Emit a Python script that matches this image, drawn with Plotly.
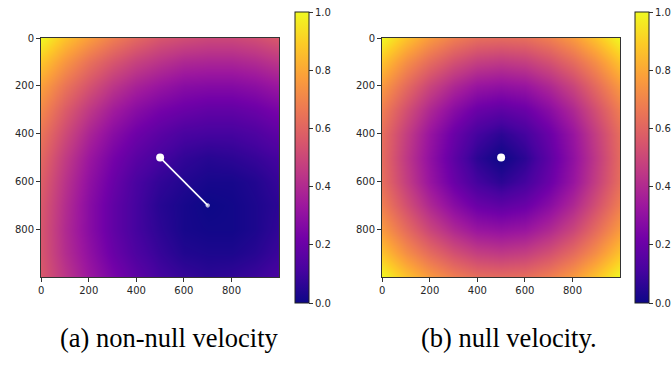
import plotly.graph_objects as go

# ---- data ----
grid_x = [0, 100, 200, 300, 400, 500, 600, 700, 800, 900, 1000]
grid_y = [0, 100, 200, 300, 400, 500, 600, 700, 800, 900, 1000]

left_z = [
    [1.00, 0.87, 0.77, 0.68, 0.61, 0.55, 0.52, 0.50, 0.50, 0.52, 0.56],
    [0.88, 0.75, 0.64, 0.55, 0.48, 0.43, 0.39, 0.38, 0.38, 0.40, 0.44],
    [0.78, 0.65, 0.54, 0.44, 0.37, 0.32, 0.28, 0.27, 0.27, 0.29, 0.33],
    [0.71, 0.57, 0.45, 0.35, 0.28, 0.23, 0.20, 0.18, 0.18, 0.20, 0.24],
    [0.65, 0.51, 0.38, 0.28, 0.21, 0.16, 0.12, 0.11, 0.11, 0.13, 0.17],
    [0.61, 0.46, 0.33, 0.23, 0.16, 0.11, 0.07, 0.05, 0.06, 0.08, 0.11],
    [0.58, 0.43, 0.30, 0.20, 0.12, 0.07, 0.04, 0.02, 0.02, 0.04, 0.08],
    [0.56, 0.41, 0.28, 0.18, 0.11, 0.05, 0.02, 0.00, 0.01, 0.03, 0.06],
    [0.55, 0.40, 0.28, 0.18, 0.11, 0.06, 0.02, 0.01, 0.01, 0.03, 0.07],
    [0.55, 0.41, 0.30, 0.20, 0.13, 0.08, 0.04, 0.03, 0.03, 0.05, 0.09],
    [0.56, 0.44, 0.33, 0.24, 0.17, 0.11, 0.08, 0.06, 0.07, 0.09, 0.12],
]

right_z = [
    [1.00, 0.87, 0.76, 0.68, 0.63, 0.62, 0.63, 0.68, 0.76, 0.87, 1.00],
    [0.87, 0.73, 0.62, 0.53, 0.47, 0.45, 0.47, 0.53, 0.62, 0.73, 0.87],
    [0.76, 0.62, 0.49, 0.39, 0.32, 0.30, 0.32, 0.39, 0.49, 0.62, 0.76],
    [0.68, 0.53, 0.39, 0.28, 0.20, 0.17, 0.20, 0.28, 0.39, 0.53, 0.68],
    [0.63, 0.47, 0.32, 0.20, 0.11, 0.06, 0.11, 0.20, 0.32, 0.47, 0.63],
    [0.62, 0.45, 0.30, 0.17, 0.06, 0.00, 0.06, 0.17, 0.30, 0.45, 0.62],
    [0.63, 0.47, 0.32, 0.20, 0.11, 0.06, 0.11, 0.20, 0.32, 0.47, 0.63],
    [0.68, 0.53, 0.39, 0.28, 0.20, 0.17, 0.20, 0.28, 0.39, 0.53, 0.68],
    [0.76, 0.62, 0.49, 0.39, 0.32, 0.30, 0.32, 0.39, 0.49, 0.62, 0.76],
    [0.87, 0.73, 0.62, 0.53, 0.47, 0.45, 0.47, 0.53, 0.62, 0.73, 0.87],
    [1.00, 0.87, 0.76, 0.68, 0.63, 0.62, 0.63, 0.68, 0.76, 0.87, 1.00],
]

agent_x = [500]
agent_y = [500]
velocity_x = [500, 700]
velocity_y = [500, 700]

axis_ticks = [0, 200, 400, 600, 800]
colorbar_ticks = [0.0, 0.2, 0.4, 0.6, 0.8, 1.0]
colorbar_labels = ["0.0", "0.2", "0.4", "0.6", "0.8", "1.0"]
captions = ["(a) non-null velocity", "(b) null velocity."]

# ---- figure ----
W, H = 672, 365
TXT = "#262626"
tick_font = dict(family="DejaVu Sans", size=10, color=TXT)


def cbar(x_px):
    return dict(
        x=x_px / W, xanchor="left", xpad=0,
        y=1 - 12 / H, yanchor="top", ypad=0,
        len=291 / H, lenmode="fraction",
        thickness=14, thicknessmode="pixels",
        outlinewidth=1, outlinecolor="#222",
        tickmode="array", tickvals=colorbar_ticks, ticktext=colorbar_labels,
        ticks="outside", ticklen=4, tickwidth=1, tickcolor="#333",
        tickfont=tick_font,
    )


fig = go.Figure()
fig.add_trace(go.Heatmap(x=grid_x, y=grid_y, z=left_z, colorscale="Plasma",
                         zmin=0, zmax=1, zsmooth="best", colorbar=cbar(295),
                         xaxis="x", yaxis="y"))
fig.add_trace(go.Heatmap(x=grid_x, y=grid_y, z=right_z, colorscale="Plasma",
                         zmin=0, zmax=1, zsmooth="best", colorbar=cbar(635),
                         xaxis="x2", yaxis="y2"))

# velocity line and agent marker (left)
fig.add_trace(go.Scatter(x=velocity_x, y=velocity_y, mode="lines+markers",
                         line=dict(color="white", width=1.6),
                         marker=dict(color="white", size=[0, 3.5]),
                         xaxis="x", yaxis="y", showlegend=False, hoverinfo="skip"))
fig.add_trace(go.Scatter(x=agent_x, y=agent_y, mode="markers",
                         marker=dict(color="white", size=8),
                         xaxis="x", yaxis="y", showlegend=False, hoverinfo="skip"))
# agent marker (right)
fig.add_trace(go.Scatter(x=agent_x, y=agent_y, mode="markers",
                         marker=dict(color="white", size=8),
                         xaxis="x2", yaxis="y2", showlegend=False, hoverinfo="skip"))


def xax(domain, anchor):
    return dict(domain=domain, anchor=anchor, range=[-0.5, 999.5],
                tickmode="array", tickvals=axis_ticks, automargin=False,
                ticks="outside", ticklen=4, tickwidth=1, tickcolor="#333",
                showline=True, linecolor="#333", linewidth=1, mirror=True,
                showgrid=False, zeroline=False, tickfont=tick_font)


def yax(domain, anchor):
    return dict(domain=domain, anchor=anchor, range=[999.5, -0.5],
                tickmode="array", tickvals=axis_ticks, automargin=False,
                ticks="outside", ticklen=4, tickwidth=1, tickcolor="#333",
                showline=True, linecolor="#333", linewidth=1, mirror=True,
                showgrid=False, zeroline=False, tickfont=tick_font)


ydom = [1 - 277 / H, 1 - 38 / H]
fig.update_layout(
    width=W, height=H,
    margin=dict(l=0, r=0, t=0, b=0, autoexpand=False),
    paper_bgcolor="white", plot_bgcolor="white",
    showlegend=False,
    xaxis=xax([41 / W, 279 / W], "y"),
    yaxis=yax(ydom, "x"),
    xaxis2=xax([382 / W, 620 / W], "y2"),
    yaxis2=yax(ydom, "x2"),
    annotations=[
        dict(text=captions[0], x=169 / W, y=1 - 338 / H, xref="paper", yref="paper",
             xanchor="center", yanchor="middle", showarrow=False,
             font=dict(family="Liberation Serif", size=26.5, color="black")),
        dict(text=captions[1], x=509 / W, y=1 - 338 / H, xref="paper", yref="paper",
             xanchor="center", yanchor="middle", showarrow=False,
             font=dict(family="Liberation Serif", size=26.5, color="black")),
    ],
)

fig.write_html("out.html", config={"displayModeBar": False},
               post_script="document.body.style.margin='0';document.body.style.padding='0';")
